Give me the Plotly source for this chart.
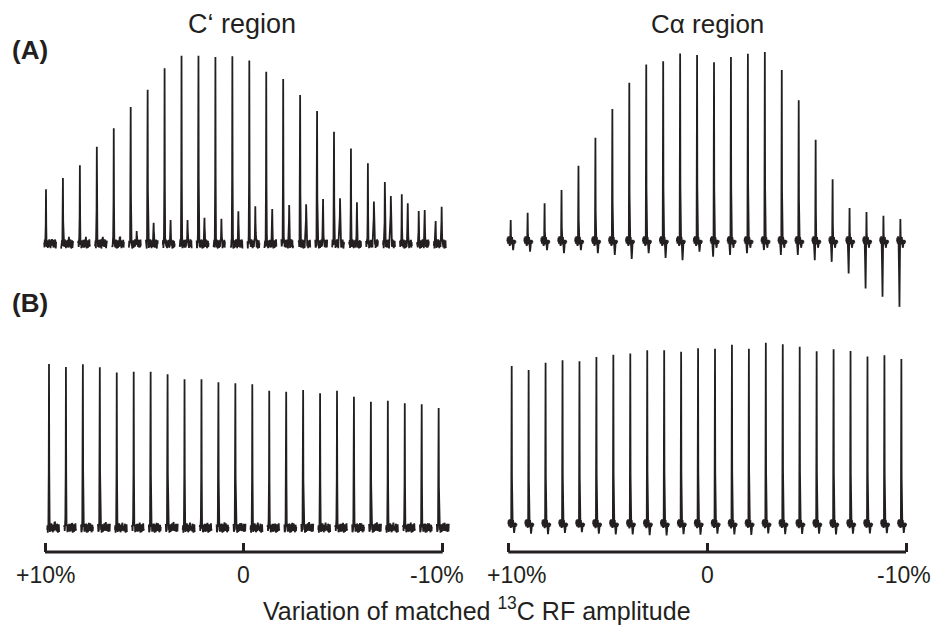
import plotly.graph_objects as go

# ---------------------------------------------------------------------------
# Peak intensities (arbitrary units) of the 24 spectra recorded while the
# matched 13C RF amplitude is stepped from +10% to -10%.
# ---------------------------------------------------------------------------
# (A) C' region
cp_a_main = [28.8, 34.7, 41.4, 51.2, 60.9, 72.1, 81.1, 92.5, 99.1, 99.1, 98.4, 98.8,
             96.6, 90.7, 86.8, 78.4, 70.0, 59.1, 50.2, 42.5, 32.6, 26.2, 17.4, 12.1]
cp_a_side = [2.6, 3.8, 3.8, 3.8, 3.8, 6.8, 11.1, 12.6, 12.6, 13.8, 13.2, 17.2,
             19.8, 18.4, 20.5, 20.9, 23.7, 24.1, 21.9, 22.3, 25.3, 21.4, 17.9, 19.6]
# (A) C-alpha region
ca_a_main = [11.6, 15.4, 20.4, 27.4, 40.2, 54.9, 70.0, 83.8, 93.5, 95.1, 99.3, 98.4,
             94.6, 97.4, 99.1, 100.0, 90.5, 74.6, 53.8, 33.0, 17.9, 15.8, 13.8, 12.1]
ca_a_dip_near = [2.0, 2.0, 2.0, 2.0, 2.0, 2.0, 2.0, 2.0, 2.0, 2.0, 2.0, 2.0,
                 7.7, 6.8, 5.8, 4.2, 6.8, 6.8, 9.5, 10.4, 16.5, 24.4, 28.8, 34.1]
ca_a_dip_far = [4.2, 5.1, 4.2, 5.8, 4.2, 5.8, 6.8, 8.9, 5.8, 8.4, 9.5, 5.1,
                3.0, 3.0, 3.0, 3.0, 3.0, 3.0, 3.0, 3.0, 3.0, 3.0, 3.0, 3.0]
# (B) C' region
cp_b_main = [86.3, 84.7, 86.2, 84.6, 81.9, 82.3, 82.3, 80.9, 78.3, 78.3, 76.7, 76.2,
             75.6, 72.3, 71.7, 72.6, 70.9, 72.3, 69.1, 66.5, 67.0, 65.6, 65.1, 63.2]
cp_b_side = [3.0, 2.6, 2.8, 3.1, 2.4, 2.9, 2.7, 3.2, 2.5, 2.8, 3.0, 2.6,
             2.9, 2.4, 2.7, 3.1, 2.5, 2.8, 2.6, 3.0, 2.7, 2.9, 2.5, 2.8]
# (B) C-alpha region
ca_b_main = [83.7, 81.6, 85.4, 86.7, 86.2, 88.4, 89.6, 90.2, 91.9, 91.9, 91.1, 93.0,
             92.8, 94.9, 92.8, 95.9, 95.1, 93.8, 91.4, 92.5, 91.6, 88.6, 89.3, 87.4]
ca_b_dip_near = [1.5, 1.4, 1.6, 1.5, 1.3, 1.6, 1.5, 1.7, 1.6, 1.5, 1.4, 1.6,
                 1.5, 1.7, 1.4, 1.6, 1.5, 1.6, 1.4, 1.5, 1.6, 1.4, 1.5, 1.5]
ca_b_dip_far = [4.2, 4.5, 4.8, 4.2, 3.8, 4.6, 4.9, 5.0, 5.3, 5.5, 4.8, 5.1,
                4.6, 4.9, 5.2, 4.4, 4.8, 4.7, 4.5, 4.9, 4.6, 4.4, 4.3, 4.2]

# baseline noise texture shared by the C' traces
baseline_ripple = [0.8, -1.8, 2.3, -0.9, 1.5, -2.4, 1.1, -0.3, 2.0, -2.1, 0.5, 1.6, -1.5, 0.2,
                   2.5, -1.3, -0.4, 1.9, -2.2, 1.2, -0.8, 1.7, -1.6, 0.6, 2.2, -1.9, 1.0, -1.1]

tick_values = [10, 0, -10]
tick_labels = ["+10%", "0", "-10%"]

FONT = "Liberation Sans, Arial, sans-serif"
INK = "#231f20"
W, H = 937, 629
PCT_PER_PX = 20.0 / 397.7      # width of one screen pixel in % units
STEP = 0.852                   # spacing of consecutive spectra in % units


def cprime_shape(hm, hs, shift):
    n = len(baseline_ripple)
    r = lambda k: baseline_ripple[(k + shift) % n]
    pts, k = [], 0
    for off in (-1.8, -1.5, -1.2, -0.9):
        pts.append((off, r(k))); k += 1
    pts += [(-0.6, 0.03 * hm + r(k)), (-0.25, 0.35 * hm), (0.0, hm),
            (0.25, 0.35 * hm), (0.6, 0.03 * hm + r(k + 1))]
    k += 2
    for j in range(15):
        pts.append((0.9 + 0.3 * j, r(k))); k += 1
    pts += [(5.5, 0.25 * hs + r(k)), (5.8, 0.6 * hs), (6.0, hs),
            (6.2, 0.6 * hs), (6.5, 0.25 * hs + r(k + 1))]
    k += 2
    for j in range(12):
        pts.append((6.8 + 0.3 * j, r(k))); k += 1
    return pts


def calpha_shape(hm, dn, df, shift):
    return [(-3.4, 0.3), (-3.0, 2.4), (-2.6, -0.8), (-2.2, 3.0), (-1.8, 0.6),
            (-1.3, -0.5 * dn), (-0.9, -dn), (-0.5, -0.3 * dn), (-0.25, 0.3 * hm),
            (0.0, hm), (0.25, 0.3 * hm), (0.6, 2.0), (1.0, -1.2), (1.4, 2.6),
            (1.9, -0.4 * df), (2.4, -df), (2.9, -0.5 * df), (3.4, 1.2),
            (3.9, -1.0), (4.4, 0.8), (4.9, -0.3)]


def stack(first, shapes):
    xs, ys = [], []
    for i, pts in enumerate(shapes):
        centre = first - STEP * i
        for off, v in pts:
            xs.append(centre - off * PCT_PER_PX)
            ys.append(v)
        xs.append(None)
        ys.append(None)
    return xs, ys


panels = [
    ("x", "y", 9.95, [cprime_shape(a, b, 5 * i) for i, (a, b) in enumerate(zip(cp_a_main, cp_a_side))]),
    ("x2", "y2", 9.879, [calpha_shape(a, b, c, i) for i, (a, b, c) in
                          enumerate(zip(ca_a_main, ca_a_dip_near, ca_a_dip_far))]),
    ("x3", "y3", 9.799, [cprime_shape(a, b, 7 * i + 3) for i, (a, b) in enumerate(zip(cp_b_main, cp_b_side))]),
    ("x4", "y4", 9.829, [calpha_shape(a, b, c, i) for i, (a, b, c) in
                          enumerate(zip(ca_b_main, ca_b_dip_near, ca_b_dip_far))]),
]

fig = go.Figure()
for xa, ya, first, shapes in panels:
    xs, ys = stack(first, shapes)
    fig.add_trace(go.Scatter(x=xs, y=ys, xaxis=xa, yaxis=ya, mode="lines",
                             line=dict(color=INK, width=1.8), hoverinfo="skip",
                             showlegend=False))

# ---- axes ---------------------------------------------------------------
def px_x(a, b):
    return [a / W, b / W]


def px_y(top, bottom):
    return [1 - bottom / H, 1 - top / H]


x_left = px_x(36.05, 451.65)
x_right = px_x(499.35, 914.95)
row_a = px_y(38, 312)
row_b = px_y(330, 552)
xrange_ = [10.45, -10.45]

hidden_x = dict(range=xrange_, showgrid=False, zeroline=False, showline=False,
                showticklabels=False, ticks="")
shown_x = dict(range=xrange_, showgrid=False, zeroline=False, showline=False,
               showticklabels=False, ticks="inside", tickvals=tick_values,
               ticklen=9, tickwidth=3, tickcolor=INK)
hidden_y = dict(showgrid=False, zeroline=False, showline=False,
                showticklabels=False, ticks="")

fig.update_layout(
    width=W, height=H, margin=dict(l=0, r=0, t=0, b=0),
    paper_bgcolor="white", plot_bgcolor="rgba(0,0,0,0)",
    font=dict(family=FONT, color=INK),
    xaxis=dict(domain=x_left, anchor="y", **hidden_x),
    xaxis2=dict(domain=x_right, anchor="y2", **hidden_x),
    xaxis3=dict(domain=x_left, anchor="y3", **shown_x),
    xaxis4=dict(domain=x_right, anchor="y4", **shown_x),
    yaxis=dict(domain=row_a, anchor="x", range=[-35.8, 108.4], **hidden_y),
    yaxis2=dict(domain=row_a, anchor="x2", range=[-36.8, 107.4], **hidden_y),
    yaxis3=dict(domain=row_b, anchor="x3", range=[-12.6, 104.2], **hidden_y),
    yaxis4=dict(domain=row_b, anchor="x4", range=[-14.2, 102.6], **hidden_y),
)

axis_y = row_b[0]
shapes = []
annotations = []
label_shift = {("x3", 10): 0, ("x3", 0): 0, ("x3", -10): -6,
               ("x4", 10): 8, ("x4", 0): 0, ("x4", -10): -2}
for xa in ("x3", "x4"):
    shapes.append(dict(type="line", xref=xa, yref="paper",
                       x0=tick_values[0], x1=tick_values[-1], y0=axis_y, y1=axis_y,
                       line=dict(color=INK, width=3)))
    for v, t in zip(tick_values, tick_labels):
        annotations.append(dict(text=t, x=v, xref=xa, y=1 - 575 / H, yref="paper",
                                xanchor="center", yanchor="middle", showarrow=False,
                                xshift=label_shift[(xa, v)],
                                font=dict(size=23, family=FONT, color=INK)))

annotations += [
    dict(text="C‘ region", x=242 / W, y=1 - 24 / H, xref="paper", yref="paper",
         xanchor="center", yanchor="middle", showarrow=False,
         font=dict(size=27, family=FONT, color=INK)),
    dict(text="Cα region", x=707 / W, y=1 - 24 / H, xref="paper", yref="paper",
         xanchor="center", yanchor="middle", showarrow=False,
         font=dict(size=26, family=FONT, color=INK)),
    dict(text="<b>(A)</b>", x=10 / W, y=1 - 50 / H, xref="paper", yref="paper",
         xanchor="left", yanchor="middle", showarrow=False,
         font=dict(size=26, family=FONT, color=INK)),
    dict(text="<b>(B)</b>", x=10 / W, y=1 - 303 / H, xref="paper", yref="paper",
         xanchor="left", yanchor="middle", showarrow=False,
         font=dict(size=26, family=FONT, color=INK)),
    dict(text="Variation of matched <sup>13</sup>C RF amplitude", x=477 / W, y=1 - 609 / H,
         xref="paper", yref="paper", xanchor="center", yanchor="middle", showarrow=False,
         font=dict(size=25, family=FONT, color=INK)),
]
fig.update_layout(shapes=shapes, annotations=annotations)

fig.write_html("out.html")
